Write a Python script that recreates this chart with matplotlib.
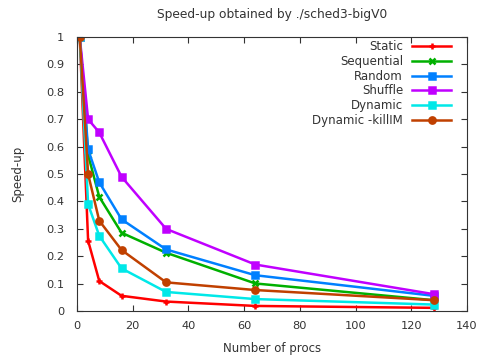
import matplotlib
matplotlib.use('Agg')
import matplotlib.pyplot as plt

procs = [1, 4, 8, 16, 32, 64, 128]
static = [1.0, 0.257, 0.11, 0.056, 0.035, 0.019, 0.012]
sequential = [1.0, 0.57, 0.417, 0.286, 0.213, 0.101, 0.04]
random_ = [1.0, 0.59, 0.47, 0.335, 0.225, 0.131, 0.056]
shuffle = [1.0, 0.70, 0.652, 0.49, 0.30, 0.17, 0.062]
dynamic = [1.0, 0.39, 0.275, 0.156, 0.07, 0.044, 0.024]
dynamic_killim = [1.0, 0.50, 0.33, 0.223, 0.105, 0.077, 0.04]

series = [
    ('Static', static, '#ff0000', '+'),
    ('Sequential', sequential, '#00b000', 'x'),
    ('Random', random_, '#0080ff', 's'),
    ('Shuffle', shuffle, '#c000ff', 's'),
    ('Dynamic', dynamic, '#00e8e8', 's'),
    ('Dynamic -killIM', dynamic_killim, '#c04000', 'o'),
]

txt = '#333333'

fig = plt.figure(figsize=(4.81, 3.56), dpi=100)
ax = fig.add_axes([0.160, 0.126, 0.811, 0.770])

for name, vals, col, mk in series:
    ax.plot(procs, vals, color=col, marker=mk, markersize=4.5, markeredgewidth=1.8,
            linewidth=1.8, label=name)

ax.set_xlim(0, 140)
ax.set_ylim(0, 1)
ax.set_xticks(range(0, 141, 20))
ax.set_yticks([i / 10 for i in range(11)])
ax.set_yticklabels(['0', '0.1', '0.2', '0.3', '0.4', '0.5', '0.6', '0.7', '0.8', '0.9', '1'])
ax.tick_params(direction='in', top=True, right=True, length=4, labelsize=8.2,
               labelcolor=txt, color='#333333')
ax.tick_params(axis='y', pad=9)
ax.tick_params(axis='x', pad=7)
for s in ax.spines.values():
    s.set_color('#333333')

ax.set_title('Speed-up obtained by ./sched3-bigV0', fontsize=8.8, color=txt, pad=14)
ax.set_xlabel('Number of procs', fontsize=8.5, color=txt, labelpad=8)
ax.set_ylabel('Speed-up', fontsize=8.5, color=txt, labelpad=16)

leg = ax.legend(loc='upper right', markerfirst=False, frameon=False, fontsize=8.5,
                handlelength=3.3, labelspacing=0.14, borderaxespad=0,
                handletextpad=0.8, bbox_to_anchor=(0.972, 1.005))
for t in leg.get_texts():
    t.set_color(txt)

fig.savefig('out.png', dpi=100)
